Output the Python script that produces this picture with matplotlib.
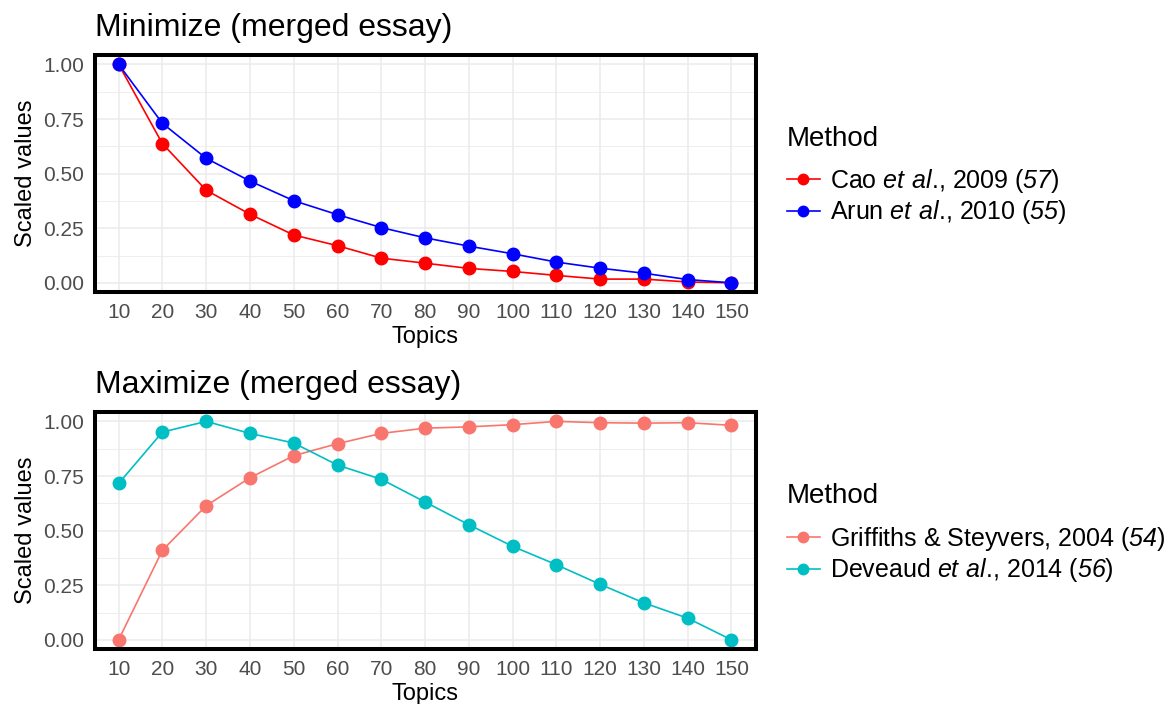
import matplotlib.pyplot as plt
from matplotlib.ticker import MultipleLocator

plt.rcParams["font.family"] = ["Liberation Sans", "DejaVu Sans"]
plt.rcParams["mathtext.fontset"] = "custom"
plt.rcParams["mathtext.rm"] = "Liberation Sans"
plt.rcParams["mathtext.sf"] = "Liberation Sans:italic"

topics = [10, 20, 30, 40, 50, 60, 70, 80, 90, 100, 110, 120, 130, 140, 150]

cao = [1.0, 0.637, 0.424, 0.314, 0.219, 0.170, 0.113, 0.090, 0.066, 0.052,
       0.034, 0.017, 0.017, 0.004, 0.0]
arun = [1.0, 0.730, 0.570, 0.466, 0.376, 0.312, 0.253, 0.206, 0.168, 0.133,
        0.095, 0.067, 0.044, 0.015, 0.0]
griffiths = [0.0, 0.410, 0.614, 0.742, 0.843, 0.898, 0.945, 0.969, 0.975,
             0.985, 1.0, 0.994, 0.992, 0.994, 0.982]
deveaud = [0.716, 0.951, 1.0, 0.945, 0.901, 0.800, 0.735, 0.631, 0.527,
           0.428, 0.344, 0.254, 0.169, 0.099, 0.0]

top_labels = [r"Cao $\mathsf{et\ al}$., 2009 ($\mathsf{57}$)",
              r"Arun $\mathsf{et\ al}$., 2010 ($\mathsf{55}$)"]
bottom_labels = [r"Griffiths & Steyvers, 2004 ($\mathsf{54}$)",
                 r"Deveaud $\mathsf{et\ al}$., 2014 ($\mathsf{56}$)"]

W, H = 1167, 704
fig = plt.figure(figsize=(W / 100, H / 100), dpi=100)


def make_panel(rect, title, series, labels, colors, title_y, legend_y):
    ax = fig.add_axes(rect)
    lines = []
    for vals, col in zip(series, colors):
        ax.plot(topics, vals, color=col, lw=1.2, zorder=2)
    for vals, col, lab in zip(series, colors, labels):
        ax.plot(topics, vals, "o", color=col, ms=9, zorder=3)
        lines.append(plt.Line2D([], [], color=col, lw=1.2, marker="o", ms=7.5, label=lab))
    ax.set_xlim(4.6, 155.6)
    ax.set_ylim(-0.042, 1.043)
    ax.set_xticks(topics)
    ax.set_yticks([0, 0.25, 0.5, 0.75, 1.0])
    ax.set_yticklabels(["0.00", "0.25", "0.50", "0.75", "1.00"])
    ax.yaxis.set_minor_locator(MultipleLocator(0.125))
    ax.grid(which="major", color="#EBEBEB", lw=1.1, zorder=0)
    ax.grid(which="minor", axis="y", color="#EBEBEB", lw=0.6, zorder=0)
    ax.set_axisbelow(True)
    ax.tick_params(which="both", length=0, labelsize=15, labelcolor="#4D4D4D")
    ax.tick_params(axis="y", pad=8)
    ax.tick_params(axis="x", pad=8)
    for s in ax.spines.values():
        s.set_linewidth(2.9)
        s.set_color("black")
        s.set_zorder(5)
    ax.set_xlabel("Topics", fontsize=17, labelpad=3)
    ax.set_ylabel("Scaled values", fontsize=17, labelpad=4.5)
    ax.set_title(title, loc="left", fontsize=23, pad=14)
    fig.text(787 / W, 1 - title_y / H, "Method", fontsize=20, va="baseline", ha="left")
    fig.legend(handles=lines, loc="center left",
               bbox_to_anchor=(787 / W, 1 - legend_y / H), frameon=False,
               fontsize=18, borderpad=0, borderaxespad=0,
               handlelength=1.3, handletextpad=0.4, labelspacing=0.15)
    return ax


make_panel([95 / W, 1 - 292 / H, 661 / W, 237 / H], "Minimize (merged essay)",
           [cao, arun], top_labels, ["#FF0000", "#0000FF"], 146, 196.5)
make_panel([95 / W, 1 - 649 / H, 661 / W, 237 / H], "Maximize (merged essay)",
           [griffiths, deveaud], bottom_labels, ["#F8766D", "#00BFC4"], 503, 554.5)

fig.savefig("out.png", dpi=100)
